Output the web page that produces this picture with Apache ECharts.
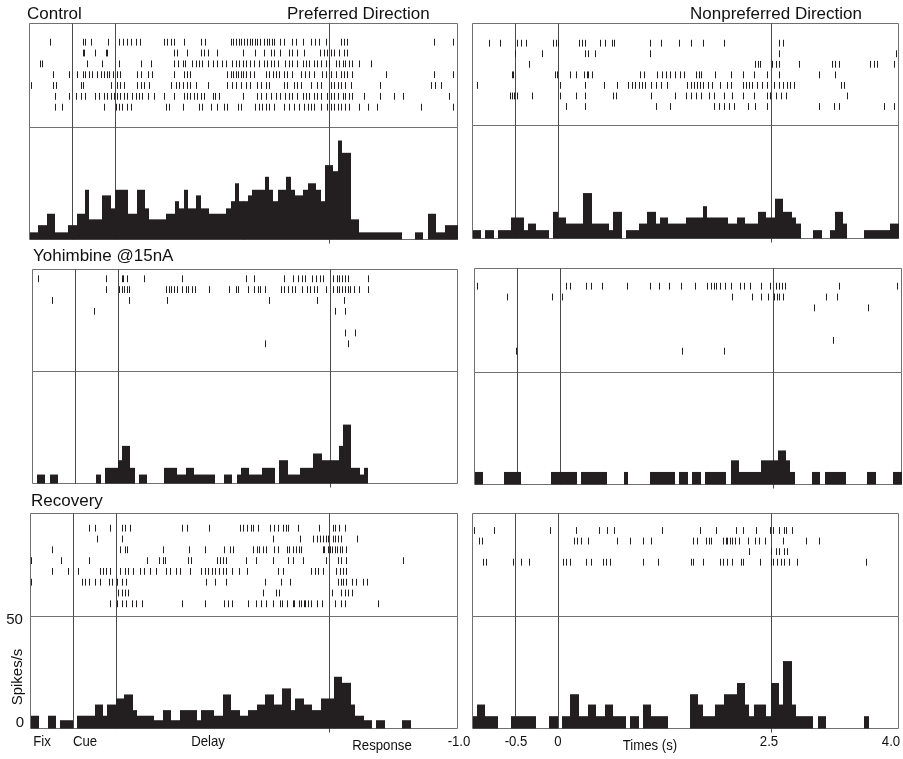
<!DOCTYPE html>
<html>
<head>
<meta charset="utf-8">
<script src="https://cdn.jsdelivr.net/npm/echarts/dist/echarts.min.js"></script>
<style>
  html, body { margin: 0; padding: 0; background: #fff; }
  #chart { width: 903px; height: 759px; }
</style>
</head>
<body>
<div id="chart"></div>
<script>
// ---- Trial window, epochs and bins (seconds) ----
const timeRange = [-1.0, 4.0];
const eventTimes = [-0.5, 0, 2.5];
const responseTime = 2.5;
const binWidth = 0.05;

// ---- Text ----
const conditionLabels = ['Control', 'Yohimbine @15nA', 'Recovery'];
const directionLabels = ['Preferred Direction', 'Nonpreferred Direction'];
const epochLabels = ['Fix', 'Cue', 'Delay', 'Response'];
const timeTickLabels = ['-1.0', '-0.5', '0', '2.5', '4.0'];
const timeAxisTitle = 'Times (s)';
const rateTickLabels = ['50', '0'];
const rateAxisTitle = 'Spikes/s';

// ---- Spike rasters: one list of spike times per trial ----
const rasterControlPref = [
  [-0.76,-0.37,-0.35,-0.28,-0.08,0.05,0.09,0.14,0.19,0.24,0.29,0.57,0.61,0.65,0.69,0.80,1.00,1.05,1.35,1.38,1.41,1.45,1.47,1.51,1.54,1.58,1.60,1.63,1.66,1.69,1.74,1.77,1.80,1.83,1.86,1.93,1.97,2.07,2.11,2.19,2.29,2.34,2.38,2.46,2.64,2.67,2.71,3.73,3.95],
  [-0.38,-0.36,-0.23,-0.11,-0.09,0.69,0.72,0.84,1.00,1.04,1.08,1.19,1.49,1.64,1.74,1.82,1.86,1.93,2.03,2.07,2.13,2.21,2.39,2.44,2.48,2.52,2.56,2.62,2.67,2.71],
  [-0.88,-0.85,-0.33,-0.15,0.04,0.30,0.42,0.69,0.73,0.79,0.82,0.90,0.94,0.98,1.02,1.08,1.14,1.19,1.25,1.29,1.37,1.41,1.45,1.49,1.53,1.58,1.62,1.68,1.74,1.78,1.82,1.86,1.90,1.99,2.03,2.07,2.13,2.19,2.23,2.27,2.32,2.36,2.40,2.46,2.50,2.58,2.62,2.66,2.69,2.73,2.77,2.85,2.99],
  [-0.73,-0.54,-0.44,-0.38,-0.35,-0.31,-0.27,-0.21,-0.17,-0.13,-0.10,-0.07,-0.03,0.02,0.06,0.26,0.30,0.38,0.43,0.69,0.80,0.84,0.88,1.31,1.35,1.38,1.41,1.44,1.47,1.50,1.53,1.58,1.62,1.76,1.80,1.84,1.88,1.92,1.97,2.01,2.07,2.17,2.22,2.27,2.32,2.42,2.46,2.52,2.58,2.64,2.67,2.71,2.77,3.16,3.73,3.95],
  [-0.98,-0.72,-0.69,-0.40,-0.38,-0.05,0.02,0.06,0.10,0.26,0.30,0.34,0.40,0.65,0.71,0.75,0.79,0.84,0.88,0.94,1.08,1.31,1.37,1.41,1.47,1.53,1.58,1.66,1.70,1.76,1.80,1.97,2.01,2.09,2.13,2.17,2.29,2.36,2.40,2.52,2.56,2.60,2.64,2.69,2.75,3.10,3.69,3.74,3.81],
  [-0.70,-0.54,-0.46,-0.40,-0.35,-0.23,-0.19,-0.13,-0.09,-0.05,-0.01,0.02,0.06,0.10,0.14,0.20,0.24,0.28,0.32,0.38,0.45,0.57,0.69,0.80,0.84,0.88,0.92,0.96,1.00,1.04,1.14,1.17,1.21,1.49,1.66,1.70,1.76,1.82,1.88,1.93,1.99,2.03,2.07,2.13,2.19,2.23,2.27,2.32,2.36,2.40,2.48,2.52,2.56,2.60,2.66,2.69,2.73,2.77,2.91,3.10,3.26,3.36,3.90],
  [-0.70,-0.62,-0.13,0.01,0.04,0.08,0.14,0.18,0.59,0.63,0.79,0.98,1.02,1.12,1.19,1.27,1.31,1.43,1.47,1.64,1.68,1.72,1.76,1.80,1.86,1.97,2.03,2.09,2.15,2.21,2.25,2.29,2.32,2.40,2.48,2.52,2.56,2.60,2.64,2.69,2.73,2.85,2.95,3.06,3.57,3.95]
];
const rasterControlNonpref = [
  [-0.81,-0.68,-0.48,-0.43,-0.37,-0.05,-0.02,0.00,0.25,0.29,0.32,0.50,0.55,0.64,0.66,1.08,1.21,1.42,1.56,1.70,1.95,2.60,2.65],
  [-0.50,-0.18,0.32,0.36,0.44,1.08,2.60,3.97],
  [-0.34,2.32,2.35,2.38,2.52,2.56,2.60,2.83,3.22,3.26,3.30,3.67,3.71,3.75,3.95],
  [-0.54,-0.52,-0.03,-0.01,0.15,0.21,0.31,0.34,0.36,0.40,0.97,1.01,1.17,1.23,1.27,1.32,1.38,1.44,1.48,1.62,1.66,1.68,1.85,2.03,2.17,2.30,2.46,2.60,3.07,3.26],
  [-0.95,0.03,0.32,0.54,0.70,0.83,0.87,0.91,0.95,0.99,1.03,1.09,1.15,1.21,1.28,1.52,1.56,1.60,1.64,1.67,1.70,1.76,1.81,1.91,1.99,2.03,2.17,2.21,2.24,2.28,2.34,2.40,2.46,2.54,2.60,2.64,2.69,2.73,2.77,3.32,3.36],
  [-0.56,-0.54,-0.51,-0.48,-0.30,0.03,0.21,0.32,0.65,0.68,1.09,1.38,1.50,1.56,1.62,1.68,1.77,1.83,1.95,2.05,2.17,2.30,2.46,2.49,2.56,2.62,2.68,3.40],
  [0.10,0.32,1.15,1.32,1.83,1.89,1.95,2.01,2.07,2.23,2.32,2.46,3.07,3.24,3.30,3.83,3.95]
];
const rasterYohPref = [
  [-0.94,-0.13,0.05,0.07,0.11,0.31,0.76,1.51,1.61,1.96,2.07,2.12,2.17,2.21,2.29,2.33,2.38,2.42,2.54,2.58,2.61,2.64,2.68,2.71,2.95],
  [-0.13,0.02,0.05,0.08,0.11,0.14,0.57,0.61,0.63,0.66,0.70,0.76,0.80,0.83,0.88,0.91,1.08,1.31,1.39,1.42,1.53,1.60,1.65,1.68,1.74,1.92,1.96,2.01,2.05,2.09,2.17,2.23,2.27,2.31,2.35,2.45,2.54,2.58,2.61,2.64,2.68,2.71,2.74,2.78,2.84,2.95],
  [-0.77,0.14,0.58,1.78,2.35,2.67],
  [-0.28,2.56,2.68],
  [],
  [2.68,2.79],
  [1.74,2.71]
];
const rasterYohNonpref = [
  [-0.97,0.07,0.12,0.30,0.37,0.49,0.79,1.06,1.16,1.28,1.42,1.58,1.72,1.77,1.80,1.83,1.87,1.93,2.00,2.11,2.15,2.23,2.36,2.46,2.53,2.57,2.60,2.64,3.27,3.95],
  [-0.62,-0.09,0.03,2.02,2.25,2.36,2.44,2.51,2.54,2.57,2.61,3.12,3.24],
  [2.97,3.61],
  [],
  [],
  [3.20],
  [-0.51,1.43,1.92]
];
const rasterRecPref = [
  [-0.31,-0.25,-0.07,0.07,0.11,0.16,0.77,0.83,1.09,1.45,1.49,1.54,1.58,1.61,1.66,1.80,1.85,1.90,1.96,1.99,2.02,2.13,2.38,2.54,2.57,2.61,2.68],
  [-0.22,0.07,1.84,2.15,2.31,2.35,2.39,2.42,2.46,2.48,2.54,2.57,2.60,2.63,2.82],
  [-0.75,0.05,0.11,0.13,0.55,0.86,1.04,1.26,1.34,1.37,1.61,1.65,1.68,1.72,1.76,1.85,1.90,2.00,2.03,2.07,2.11,2.14,2.17,2.42,2.44,2.48,2.51,2.53,2.56,2.59,2.62,2.65,2.70],
  [-0.99,-0.64,-0.31,0.37,0.50,0.55,0.58,0.85,0.88,1.18,1.22,1.25,1.29,1.52,1.64,1.84,2.02,2.07,2.19,2.46,2.60,2.64,2.70,3.36],
  [-0.75,-0.56,-0.44,-0.19,-0.15,-0.12,-0.07,0.05,0.11,0.14,0.20,0.28,0.33,0.40,0.47,0.59,0.63,0.70,0.75,0.87,1.00,1.04,1.08,1.12,1.16,1.21,1.25,1.29,1.36,1.44,1.54,1.90,1.96,2.29,2.33,2.37,2.42,2.58,2.62,2.66,2.70],
  [-0.99,-0.40,-0.36,-0.32,-0.25,-0.19,-0.08,-0.05,0.01,0.07,0.12,1.06,1.16,1.29,1.75,1.93,2.04,2.60,2.63,2.66,2.70,2.76,2.81,2.89,2.94],
  [0.03,0.07,0.11,0.14,1.72,1.88,1.91,2.53,2.64,2.68,2.72,2.76],
  [-0.07,0.01,0.07,0.12,0.19,0.24,0.31,0.77,1.04,1.26,1.31,1.36,1.55,1.64,1.70,1.76,1.84,1.92,1.95,2.00,2.07,2.09,2.14,2.17,2.20,2.22,2.25,2.29,2.35,2.41,2.56,2.64,2.68,3.07]
];
const rasterRecNonpref = [
  [-0.98,-0.75,-0.09,0.21,0.48,0.58,0.66,1.22,1.67,1.86,2.09,2.18,2.33,2.49,2.53,2.60,2.66,2.68,2.75],
  [-0.92,-0.89,0.19,0.23,0.27,0.36,0.70,0.85,1.00,1.10,1.59,1.63,1.74,1.77,1.80,1.94,1.97,1.99,2.02,2.05,2.08,2.13,2.23,2.31,2.36,2.43,2.64,2.91,3.07],
  [2.24,2.50,2.56,2.60,2.66,2.69],
  [-0.88,-0.84,-0.53,-0.43,-0.34,0.06,0.10,0.15,0.33,0.39,0.53,0.57,0.61,1.00,1.18,1.56,1.59,1.70,1.90,1.94,1.99,2.05,2.15,2.18,2.38,2.50,2.53,2.57,2.62,2.66,2.71,2.81,3.62]
];

// ---- Peri-stimulus time histograms (spikes/s), 50 ms bins from -1.0 s ----
const psthControlPref = [
  3.2,3.2,6.4,6.4,11.5,11.5,3.2,3.2,3.2,6.4,
  6.4,11.5,11.5,22.2,9.0,9.0,9.0,19.7,19.7,13.9,
  22.2,22.2,22.2,11.5,11.5,22.2,22.2,13.9,9.0,9.0,
  9.0,9.0,11.5,11.5,17.1,13.9,22.2,13.9,13.9,19.7,
  13.9,13.9,11.5,11.5,11.5,11.5,13.9,17.1,25.1,17.1,
  17.1,19.7,22.2,22.2,22.2,28.0,22.2,17.1,22.2,22.2,
  28.0,22.2,19.7,19.7,22.2,25.1,25.1,22.2,17.1,33.2,
  33.2,30.5,44.2,38.7,38.7,9.0,9.0,3.2,3.2,3.2,
  3.2,3.2,3.2,3.2,3.2,3.2,3.2,0,0,0,
  3.2,3.2,0,11.5,11.5,3.2,3.2,6.4,6.4,6.4
];
const psthControlNonpref = [
  3.7,3.7,0,3.7,3.7,0,3.7,3.7,3.7,9.3,
  9.3,9.3,3.7,6.6,6.6,3.7,3.7,3.7,0,11.8,
  9.3,9.3,6.6,6.6,6.6,6.6,20.1,20.1,6.6,6.6,
  6.6,6.6,3.7,11.8,11.8,0,3.7,3.7,3.7,6.6,
  6.6,11.8,11.8,6.6,9.3,9.3,6.6,6.6,6.6,6.6,
  9.3,9.3,9.3,9.3,14.3,9.3,9.3,9.3,9.3,9.3,
  6.6,6.6,9.3,9.3,6.6,6.6,6.6,11.8,11.8,9.3,
  9.3,17.6,17.6,11.8,11.8,9.3,6.6,0,0,0,
  3.7,3.7,0,0,3.7,11.8,11.8,6.6,0,0,
  0,0,3.7,3.7,3.7,3.7,3.7,3.7,6.6,6.6
];
const psthYohPref = [
  0,4.0,4.0,0,4.0,4.0,0,0,0,0,
  0,0,0,0,0,4.0,0,7.0,7.0,7.0,
  10.4,16.8,16.8,7.0,0,4.0,4.0,0,0,0,
  0,7.0,7.0,7.0,4.0,4.0,7.0,7.0,4.0,4.0,
  4.0,4.0,4.0,0,0,4.0,4.0,0,4.0,7.0,
  7.0,4.0,4.0,4.0,7.0,7.0,7.0,0,10.4,10.4,
  4.0,4.0,4.0,7.0,7.0,7.0,13.4,13.4,10.4,10.4,
  10.4,10.4,16.8,26.3,26.3,7.0,7.0,4.0,7.0,0,
  0,0,0,0,0,0,0,0,0,0,
  0,0,0,0,0,0,0,0,0,0
];
const psthYohNonpref = [
  5.6,5.6,0,0,0,0,0,5.6,5.6,5.6,
  5.6,0,0,0,0,0,0,0,5.6,5.6,
  5.6,5.6,5.6,5.6,0,5.6,5.6,5.6,5.6,5.6,
  5.6,0,0,0,0,5.6,0,0,0,0,
  0,5.6,5.6,5.6,5.6,5.6,5.6,0,5.6,5.6,
  0,5.6,5.6,0,5.6,5.6,5.6,5.6,5.6,0,
  10.8,10.8,5.6,5.6,5.6,5.6,5.6,10.8,10.8,10.8,
  10.8,15.2,15.2,10.8,5.6,0,0,0,0,5.6,
  5.6,0,5.6,5.6,5.6,5.6,5.6,0,0,0,
  0,0,5.6,5.6,0,0,0,0,5.6,5.6
];
const psthRecPref = [
  5.7,5.7,0,0,5.7,5.7,0,3.7,3.7,3.7,
  0,5.7,5.7,5.7,5.7,10.7,10.7,5.7,10.7,10.7,
  13.4,13.4,15.2,15.2,8.2,5.7,5.7,5.7,5.7,3.7,
  3.7,8.2,8.2,3.7,3.7,8.2,8.2,8.2,8.2,3.7,
  8.2,8.2,8.2,5.7,5.7,15.2,15.2,8.2,8.2,5.7,
  5.7,8.2,8.2,10.7,10.7,15.2,15.2,10.7,10.7,17.9,
  17.9,8.2,13.4,13.4,10.7,10.7,8.2,8.2,13.4,13.4,
  13.4,23.1,23.1,20.4,20.4,10.7,5.7,5.7,3.7,3.7,
  0,3.7,3.7,0,0,0,0,3.7,3.7,0,
  0,0,0,0,0,0,0,0,0,0
];
const psthRecNonpref = [
  5.5,10.7,10.7,5.5,5.5,5.5,0,0,0,5.5,
  5.5,5.5,5.5,5.5,5.5,0,0,0,5.5,5.5,
  0,5.5,5.5,15.3,15.3,5.5,5.5,10.7,10.7,5.5,
  5.5,10.7,10.7,5.5,5.5,5.5,0,5.5,5.5,0,
  10.7,10.7,5.5,5.5,5.5,5.5,0,0,0,0,
  0,15.3,15.3,10.7,5.5,5.5,5.5,10.7,10.7,15.3,
  15.3,15.3,20.3,20.3,10.7,5.5,10.7,10.7,10.7,5.5,
  20.3,20.3,10.7,30.1,30.1,10.7,5.5,5.5,5.5,5.5,
  0,5.5,5.5,0,0,0,0,0,0,0,
  0,0,5.5,0,0,0,0,0,0,0
];
const rateMax = 50;

// ---- Panel frames (px): box edges, raster/histogram divider, trial row placement ----
const panels = [
  { raster: rasterControlPref,    psth: psthControlPref,    left: 29,  right: 457, top: 23,  divider: 127, bottom: 239, rowTop: 18.7, rowStep: 10.83 },
  { raster: rasterControlNonpref, psth: psthControlNonpref, left: 472, right: 898, top: 23,  divider: 125, bottom: 238, rowTop: 19.7, rowStep: 10.55 },
  { raster: rasterYohPref,        psth: psthYohPref,        left: 32,  right: 457, top: 269, divider: 371, bottom: 483, rowTop: 9.3,  rowStep: 10.83 },
  { raster: rasterYohNonpref,     psth: psthYohNonpref,     left: 474, right: 901, top: 268, divider: 372, bottom: 484, rowTop: 17.7, rowStep: 10.83 },
  { raster: rasterRecPref,        psth: psthRecPref,        left: 30,  right: 457, top: 513, divider: 616, bottom: 728, rowTop: 14.7, rowStep: 10.8 },
  { raster: rasterRecNonpref,     psth: psthRecNonpref,     left: 472, right: 898, top: 513, divider: 616, bottom: 728, rowTop: 17,   rowStep: 10.57 }
];

const FONT = '"Liberation Sans", Arial, Helvetica, sans-serif';
const INK = '#231f20';
const FRAME = '#707070';
const EVENT = '#4a4a4a';

const grids = [], xAxes = [], yAxes = [], series = [];

// Vertical epoch markers; the response marker pokes slightly below the histogram frame
function eventSeries(axisIdx, isHistogram) {
  return {
    type: 'custom', xAxisIndex: axisIdx, yAxisIndex: axisIdx, z: 1, silent: true,
    data: eventTimes.map(t => [t, 0]),
    renderItem: (params, api) => {
      const cs = params.coordSys;
      const t = api.value(0);
      const x = Math.round(api.coord([t, 0])[0]) + 0.5;
      const extra = (isHistogram && t === responseTime) ? 4 : 0;
      return { type: 'line', shape: { x1: x, y1: cs.y, x2: x, y2: cs.y + cs.height + extra },
               style: { stroke: EVENT, lineWidth: 1 } };
    }
  };
}

panels.forEach((p, i) => {
  const rIdx = 2 * i, hIdx = 2 * i + 1;
  const rasterH = p.divider - p.top;
  grids.push({ left: p.left + 0.5, top: p.top + 0.5, width: p.right - p.left, height: rasterH,
               show: true, borderColor: FRAME, borderWidth: 1, backgroundColor: 'transparent' });
  grids.push({ left: p.left + 0.5, top: p.divider + 0.5, width: p.right - p.left, height: p.bottom - p.divider,
               show: true, borderColor: FRAME, borderWidth: 1, backgroundColor: 'transparent' });
  [rIdx, hIdx].forEach(g => xAxes.push({ type: 'value', gridIndex: g, min: timeRange[0], max: timeRange[1], show: false }));
  yAxes.push({ type: 'value', gridIndex: rIdx, inverse: true, show: false,
               min: -p.rowTop / p.rowStep, max: (rasterH - p.rowTop) / p.rowStep });
  yAxes.push({ type: 'value', gridIndex: hIdx, min: 0, max: rateMax, show: false });

  // spike ticks
  const spikes = [];
  p.raster.forEach((trial, row) => trial.forEach(t => spikes.push([t, row])));
  series.push({
    type: 'custom', xAxisIndex: rIdx, yAxisIndex: rIdx, z: 3, silent: true, data: spikes,
    renderItem: (params, api) => {
      const c = api.coord([api.value(0), api.value(1)]);
      const x = Math.round(c[0]) + 0.5;
      return { type: 'line', shape: { x1: x, y1: c[1] - 3.4, x2: x, y2: c[1] + 3.4 },
               style: { stroke: INK, lineWidth: 1 } };
    }
  });
  // histogram bars
  const bars = [];
  p.psth.forEach((v, k) => { if (v > 0) bars.push([timeRange[0] + k * binWidth, v]); });
  series.push({
    type: 'custom', xAxisIndex: hIdx, yAxisIndex: hIdx, z: 2, silent: true, data: bars,
    renderItem: (params, api) => {
      const t = api.value(0), v = api.value(1);
      const a = api.coord([t, 0]), b = api.coord([t + binWidth, v]);
      const x0 = Math.round(a[0]), x1 = Math.round(b[0]);
      return { type: 'rect', shape: { x: x0, y: b[1], width: x1 - x0, height: a[1] - b[1] },
               style: { fill: INK } };
    }
  });
  series.push(eventSeries(rIdx, false));
  series.push(eventSeries(hIdx, true));
});

// ---- Text placed around the panels ----
function label(text, x, y, size, align, extra) {
  return Object.assign({
    type: 'text', x: x, y: y, silent: true,
    style: { text: text, font: size + 'px ' + FONT, fill: '#111', align: align || 'left', verticalAlign: 'middle' }
  }, extra || {});
}
const graphics = [
  label(conditionLabels[0], 27, 14, 17),
  label(conditionLabels[1], 33, 256, 17),
  label(conditionLabels[2], 31, 501, 17),
  label(directionLabels[0], 287, 14, 17),
  label(directionLabels[1], 690, 14, 17),
  label(rateTickLabels[0], 14.5, 620, 15, 'center'),
  label(rateTickLabels[1], 20, 723, 15, 'center'),
  label(rateAxisTitle, 18, 677, 15, 'center', { rotation: Math.PI / 2 })
];
// condensed captions under the bottom row (scaled about their own anchor)
const narrow = (text, x, y) => label(text, x, y, 15, 'center', { scaleX: 0.88 });
const epochX = [42, 85, 208, 382];
const epochY = [742, 742, 742, 746];
epochLabels.forEach((t, k) => graphics.push(narrow(t, epochX[k], epochY[k])));
const tickX = [459, 516, 558, 769, 891];
timeTickLabels.forEach((t, k) => graphics.push(narrow(t, tickX[k], 742)));
graphics.push(narrow(timeAxisTitle, 650, 746));

const chart = echarts.init(document.getElementById('chart'), null, { renderer: 'canvas' });
chart.setOption({
  animation: false,
  backgroundColor: '#fff',
  grid: grids,
  xAxis: xAxes,
  yAxis: yAxes,
  series: series,
  graphic: graphics
});
</script>
</body>
</html>
